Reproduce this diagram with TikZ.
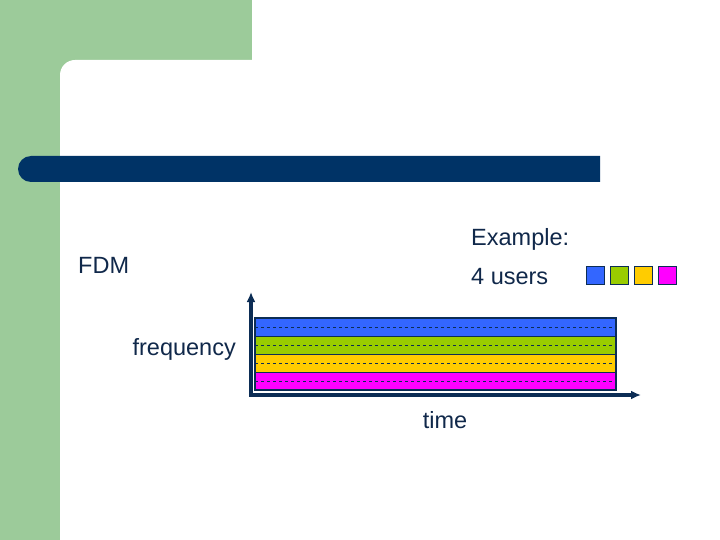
\documentclass[tikz,border=0pt]{standalone}
\usepackage{fontspec}
\setmainfont{Liberation Sans}
\usetikzlibrary{arrows.meta}
\definecolor{slidegreen}{HTML}{9CCB9A}
\definecolor{slidenavy}{HTML}{003366}
\definecolor{axisnavy}{HTML}{0C2D55}
\definecolor{textnavy}{HTML}{10284A}
\definecolor{userblue}{HTML}{3366FF}
\definecolor{usergreen}{HTML}{99CC00}
\definecolor{useryellow}{HTML}{FFCC00}
\definecolor{usermagenta}{HTML}{FF00FF}
\begin{document}
\begin{tikzpicture}[x=1pt,y=-1pt, every node/.style={font=\fontsize{23.5}{28}\selectfont, text=textnavy, inner sep=0pt}]
\useasboundingbox (0,0) rectangle (720,540);
% slide background
\fill[slidegreen] (0,0) rectangle (252,80);
\fill[slidegreen] (0,0) rectangle (60,540);
\fill[white] (60,540) -- (60,75) arc[start angle=180, end angle=270, radius=15] -- (252,60) -- (252,540) -- cycle;
\fill[slidenavy] (600,156) -- (31,156) arc[start angle=270, end angle=90, radius=13] -- (600,182) -- cycle;
% labels
\node[anchor=west] (example) at (471,239) {Example:};
\node[anchor=west] (fdm) at (78,265) {FDM};
\node[anchor=west] (users) at (471,277) {4 users};
\node[anchor=east] (freq) at (236,349) {frequency};
\node (time) at (445,420) {time};
% legend
\foreach \c [count=\i from 0] in {userblue,usergreen,useryellow,usermagenta}
  \draw[fill=\c, draw=axisnavy, line width=0.8pt] (586+24*\i,266) rectangle +(18,18);
% bands
\foreach \c [count=\i from 0] in {userblue,usergreen,useryellow,usermagenta}{
  \fill[\c] (255,318+18*\i) rectangle (616,336+18*\i);
  \draw[axisnavy, dashed, line width=0.5pt] (255,327+18*\i) -- (616,327+18*\i);
}
\foreach \i in {1,2,3}
  \draw[axisnavy, line width=0.8pt] (255,318+18*\i) -- (616,318+18*\i);
\draw[axisnavy, line width=1.2pt] (255,318) rectangle (616,390);
% axes
\coordinate (origin) at (251,395);
\coordinate (ftop) at (251,292);
\coordinate (tend) at (641,395);
\draw[axisnavy, line width=3.2pt, -{Latex[length=10pt,width=9pt]}] (origin) -- (ftop);
\draw[axisnavy, line width=3.2pt, -{Latex[length=10pt,width=9pt]}] ([xshift=-1.6pt]origin) -- (tend);
\end{tikzpicture}
\end{document}
